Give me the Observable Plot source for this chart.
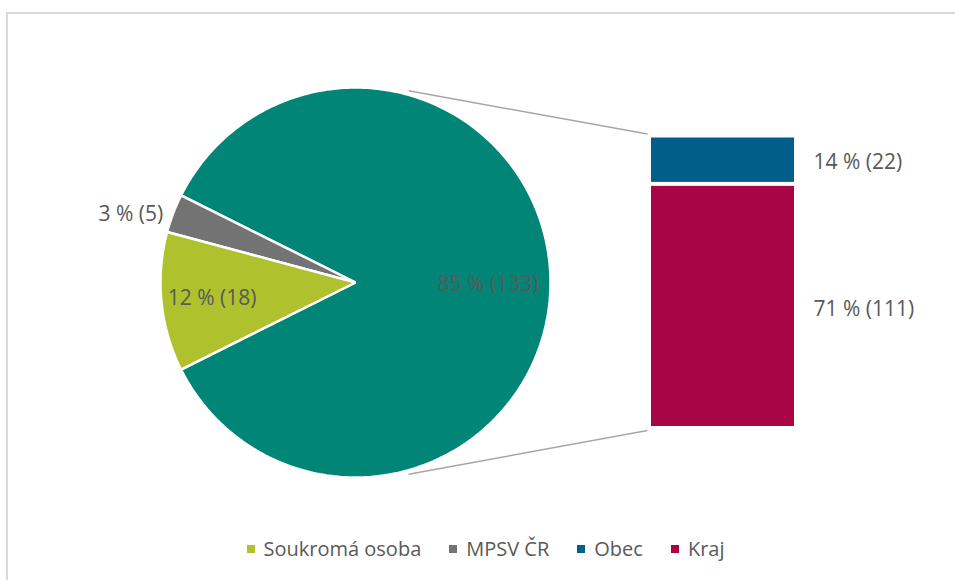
<!DOCTYPE html>
<html>
<head>
<meta charset="utf-8">
<script src="https://cdn.jsdelivr.net/npm/d3@7"></script>
<script src="https://cdn.jsdelivr.net/npm/@observablehq/plot@0.6"></script>
<style>
  html, body { margin: 0; padding: 0; background: #fff; }
  #wrap { position: relative; width: 955px; height: 580px; overflow: hidden; }
  #frame { position: absolute; left: 6px; top: 12px; width: 1000px; height: 600px;
           border-left: 2px solid #d9d9d9; border-top: 2px solid #d9d9d9; }
  #chart { position: absolute; left: 0; top: 0; }
  #legend { position: absolute; left: 8px; width: 955px; top: 537px; display: flex; justify-content: center;
            font-family: "Open Sans", sans-serif; font-size: 20px; line-height: 24px; color: #595959; }
  .item { display: flex; align-items: center; margin: 0 14px; }
  .sw { width: 8px; height: 8px; margin-right: 9px; }
</style>
</head>
<body>
<div id="wrap">
  <div id="frame"></div>
  <div id="chart"></div>
  <div id="legend"></div>
</div>
<script>
// ---- data ----
const pieCategories = ["Obec + Kraj", "MPSV ČR", "Soukromá osoba"]; // first slice is split into the bar
const pieValues = [133, 5, 18];
const barCategories = ["Kraj", "Obec"];
const barValues = [111, 22];
const legendCategories = ["Soukromá osoba", "MPSV ČR", "Obec", "Kraj"];
const colorDomain = ["Soukromá osoba", "MPSV ČR", "Obec", "Kraj", "Obec + Kraj"];
const colorRange = ["#AFC22D", "#737373", "#005E8A", "#A80545", "#008576"];

// ---- layout (pixels) ----
const W = 955, H = 530;
const CX = 355, CY = 282, R = 195;
const BAR_X1 = 651, BAR_X2 = 794, BAR_TOP = 135.5, BAR_BOTTOM = 428;
const LABEL_X = 813;
const textColor = "#595959";

const total = d3.sum(pieValues);
const barTotal = d3.sum(barValues);
const k = (BAR_BOTTOM - BAR_TOP) / barTotal;   // pixels per unit
const ux = px => px / k;
const uy = py => (BAR_BOTTOM - py) / k;
const pct = v => `${Math.round(v / total * 100)} % (${v})`;

// pie slice polygons
const slicePts = [];
const sliceInfo = [];
let a = -pieValues[0] / total * 180;
pieCategories.forEach((name, i) => {
  const a0 = a, a1 = a + pieValues[i] / total * 360;
  const n = Math.max(4, Math.ceil(a1 - a0));
  slicePts.push({name, x: ux(CX), y: uy(CY)});
  for (let j = 0; j <= n; j++) {
    const t = (a0 + (a1 - a0) * j / n) * Math.PI / 180;
    slicePts.push({name, x: ux(CX) + R / k * Math.cos(t), y: uy(CY) + R / k * Math.sin(t)});
  }
  sliceInfo.push({name, value: pieValues[i], mid: (a0 + a1) / 2});
  a = a1;
});
// label placement: radius factor and angular offset from slice middle
const labelR = {"Obec + Kraj": 0.68, "MPSV ČR": 1.205, "Soukromá osoba": 0.74};
const labelShift = {"Obec + Kraj": -0.6, "MPSV ČR": 3.8, "Soukromá osoba": 0.6};
const pieLabels = sliceInfo.map(s => {
  const t = (s.mid + labelShift[s.name]) * Math.PI / 180;
  return {text: pct(s.value), x: ux(CX) + labelR[s.name] * R / k * Math.cos(t),
          y: uy(CY) + labelR[s.name] * R / k * Math.sin(t)};
});

const barData = barCategories.map((name, i) => ({name, value: barValues[i]}));

const connAngle = 74.5;
const connectors = [
  {x1: ux(CX) + 1.02 * R / k * Math.cos(connAngle * Math.PI / 180), y1: uy(CY) + 1.02 * R / k * Math.sin(connAngle * Math.PI / 180),
   x2: ux(BAR_X1 - 4), y2: barTotal + 2 / k},
  {x1: ux(CX) + 1.02 * R / k * Math.cos(-connAngle * Math.PI / 180), y1: uy(CY) + 1.02 * R / k * Math.sin(-connAngle * Math.PI / 180),
   x2: ux(BAR_X1 - 4), y2: 0 - 2 / k}
];

const plot = Plot.plot({
  width: W, height: H, margin: 0,
  style: {fontFamily: "'Open Sans', sans-serif", fontSize: "21px", background: "transparent", color: textColor},
  x: {domain: [0, W / k], range: [0, W], axis: null},
  y: {domain: [0, barTotal], range: [BAR_BOTTOM, BAR_TOP], axis: null},
  color: {domain: colorDomain, range: colorRange},
  marks: [
    Plot.line(slicePts, {x: "x", y: "y", z: "name", fill: "name", stroke: "white", strokeWidth: 2.5, curve: "linear-closed", strokeLinejoin: "miter"}),
    Plot.link(connectors, {x1: "x1", y1: "y1", x2: "x2", y2: "y2", stroke: "#A6A6A6", strokeWidth: 1.5}),
    Plot.rect(barData, Plot.stackY({x1: ux(BAR_X1), x2: ux(BAR_X2), y: "value", fill: "name", insetTop: 2, insetBottom: 2})),
    Plot.text(pieLabels, {x: "x", y: "y", text: "text", fill: textColor, fontSize: 21}),
    Plot.text(barData, Plot.stackY({x: ux(LABEL_X), y: "value", text: d => pct(d.value), textAnchor: "start", dy: 2.5, fill: textColor, fontSize: 21}))
  ]
});
document.getElementById("chart").appendChild(plot);

const leg = document.getElementById("legend");
legendCategories.forEach(c => {
  const it = document.createElement("div"); it.className = "item";
  const sw = document.createElement("div"); sw.className = "sw";
  sw.style.background = colorRange[colorDomain.indexOf(c)];
  const tx = document.createElement("span"); tx.textContent = c;
  it.appendChild(sw); it.appendChild(tx); leg.appendChild(it);
});
</script>
</body>
</html>
